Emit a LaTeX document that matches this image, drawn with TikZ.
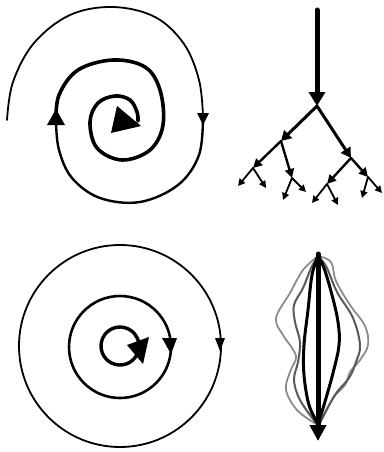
\documentclass[tikz,border=0pt]{standalone}
\usetikzlibrary{arrows.meta}
\begin{document}
\begin{tikzpicture}[x=1pt,y=-1pt,line cap=round,line join=round,
  head/.style={fill=black,draw=none},
  stem/.style={line width=5pt,-{Triangle[width=16pt,length=14pt]}},
  br1/.style={line width=3pt,-{Triangle[width=11pt,length=10pt]}},
  br2/.style={line width=2.4pt,-{Triangle[width=9pt,length=9pt]}},
  leaf/.style={line width=1.8pt,-{Triangle[width=7pt,length=7pt]}},
  graycurve/.style={line width=1.8pt,draw=black!45},
  darkgray/.style={line width=2pt,draw=black!65},
  blackcurve/.style={line width=3pt,draw=black}]
\useasboundingbox (0,0) rectangle (383,452);

% ---------- spiral (top left) ----------
\draw[line width=1.8pt] plot[smooth,tension=0.6] coordinates
  {(7,120) (13,82) (34,43) (70,15) (113,7) (155,17) (184,44) (199,80) (203,116)};
\draw[line width=2.4pt] plot[smooth,tension=0.6] coordinates
  {(203,116) (199,155) (178,185) (140,202) (100,198) (72,178) (59,150) (56,122)};
\draw[line width=3.6pt] plot[smooth,tension=0.6] coordinates
  {(56,122) (59,95) (78,70) (113,60) (145,67) (160,90) (163,125) (150,150) (122,160) (97,148) (90,122) (98,103) (115,96) (130,100) (137,112) (138,121)};
\fill[head] (197,113) -- (209,113) -- (203,125) -- cycle;
\fill[head] (47,125) -- (65,125) -- (56,109) -- cycle;
\fill[head] (117,106) -- (111,133) -- (141,126) -- cycle;

% ---------- branching tree (top right) ----------
\coordinate (t0) at (317,10);
\coordinate (t1) at (317,106);
\coordinate (a) at (281,141);
\coordinate (b) at (351,158);
\coordinate (aa) at (253,168);
\coordinate (ab) at (292,178);
\coordinate (ba) at (327,184);
\coordinate (bb) at (368,177);
\coordinate (aaa) at (238,186);
\coordinate (aab) at (266,188);
\coordinate (aba) at (283,200);
\coordinate (abb) at (306,192);
\coordinate (baa) at (312,203);
\coordinate (bab) at (338,205);
\coordinate (bba) at (362,198);
\coordinate (bbb) at (382,193);
\draw[stem] (t0) -- (t1);
\draw[br1] (t1) -- (a);
\draw[br1] (t1) -- (b);
\draw[br2] (a) -- (aa);
\draw[br2] (a) -- (ab);
\draw[br2] (b) -- (ba);
\draw[br2] (b) -- (bb);
\draw[leaf] (aa) -- (aaa);
\draw[leaf] (aa) -- (aab);
\draw[leaf] (ab) -- (aba);
\draw[leaf] (ab) -- (abb);
\draw[leaf] (ba) -- (baa);
\draw[leaf] (ba) -- (bab);
\draw[leaf] (bb) -- (bba);
\draw[leaf] (bb) -- (bbb);

% ---------- concentric circles (bottom left) ----------
\draw[line width=1.8pt] (120,346) circle[radius=101];
\draw[line width=2.6pt] (120,347) circle[radius=51];
\draw[line width=3.4pt] (120,346) ++(25:19) arc[start angle=25,end angle=345,radius=19];
\fill[head] (215,338) -- (225,338) -- (220,351) -- cycle;
\fill[head] (162,338) -- (177,338) -- (171,354) -- cycle;
\fill[head] (127,345) -- (149,337) -- (143,364) -- cycle;

% ---------- bundle of paths (bottom right) ----------
\draw[graycurve] plot[smooth,tension=0.6] coordinates
  {(318,256) (303,270) (290,293) (276,318) (283,335) (292,348) (296,358) (290,372) (286,390) (297,410) (316,424)};
\draw[graycurve] plot[smooth,tension=0.6] coordinates
  {(318,256) (331,262) (336,281) (350,305) (365,326) (368,345) (360,360) (350,372) (345,385) (333,398) (320,422)};
\draw[darkgray] plot[smooth,tension=0.6] coordinates
  {(318,258) (312,266) (303,288) (294,305) (295,322) (300,342) (298,362) (294,380) (300,400) (316,423)};
\draw[darkgray] plot[smooth,tension=0.6] coordinates
  {(318,257) (326,266) (337,292) (353,318) (360,345) (356,362) (349,378) (335,395) (320,423)};
\draw[blackcurve] plot[smooth,tension=0.6] coordinates
  {(318,256) (312,275) (308,310) (304,345) (304,375) (309,405) (318,424)};
\draw[blackcurve] plot[smooth,tension=0.6] coordinates
  {(318,256) (324,268) (332,295) (338,322) (339,345) (333,373) (324,405) (318,424)};
\coordinate (p0) at (318,254);
\coordinate (p1) at (318,441);
\draw[line width=5pt,-{Triangle[width=16pt,length=16pt]}] (p0) -- (p1);
\end{tikzpicture}
\end{document}
